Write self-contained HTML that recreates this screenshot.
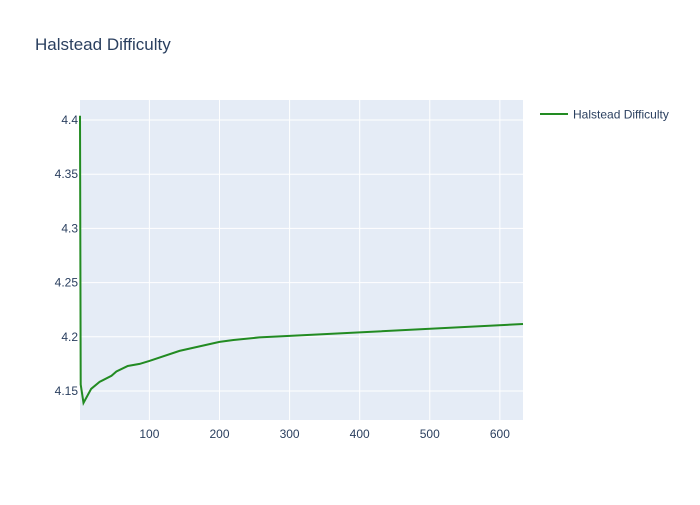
<!DOCTYPE html>
<html><head><meta charset="utf-8"><style>
body{margin:0;background:#fff;font-family:"Liberation Sans",sans-serif;}
</style></head><body>
<svg width="700" height="500" xmlns="http://www.w3.org/2000/svg">
<rect width="700" height="500" fill="#fff"/>
<text x="35" y="50" font-size="17" fill="#2a3f5f">Halstead Difficulty</text>
<rect x="80" y="100" width="443" height="320" fill="#e5ecf6"/>
<g id="grid"></g>
<g id="xt" font-size="12" fill="#2a3f5f" text-anchor="middle"></g>
<g id="yt" font-size="12" fill="#2a3f5f" text-anchor="end"></g>
<path id="line" fill="none" stroke="#228b22" stroke-width="2"/>
<g>
<line x1="540" y1="114" x2="568" y2="114" stroke="#228b22" stroke-width="2"/>
<text x="573" y="118.5" font-size="12" fill="#2a3f5f">Halstead Difficulty</text>
</g>
</svg>
<script>
const xs=[1,2,6,17,29,46,53,69,86,100,143,200,220,257,300,633];
const ys=[4.404,4.156,4.139,4.152,4.1584,4.164,4.168,4.173,4.175,4.1777,4.187,4.1953,4.197,4.1994,4.2008,4.2118];
const xTicks=[100,200,300,400,500,600];
const yTicks=[4.15,4.2,4.25,4.3,4.35,4.4];
const yLabels=["4.15","4.2","4.25","4.3","4.35","4.4"];
const X0=80,X1=523,Y0=420,Y1=100;
const xmin=Math.min(...xs),xmax=Math.max(...xs);
const ymin=4.1232,ymax=4.4185;
const sx=v=>X0+(v-xmin)/(xmax-xmin)*(X1-X0);
const sy=v=>Y0-(v-ymin)/(ymax-ymin)*(Y0-Y1);
const NS="http://www.w3.org/2000/svg";
const grid=document.getElementById('grid'),xt=document.getElementById('xt'),yt=document.getElementById('yt');
xTicks.forEach(t=>{const l=document.createElementNS(NS,'line');
l.setAttribute('x1',sx(t));l.setAttribute('x2',sx(t));l.setAttribute('y1',Y1);l.setAttribute('y2',Y0);
l.setAttribute('stroke','#fff');l.setAttribute('stroke-width','1');


grid.appendChild(l);
const tx=document.createElementNS(NS,'text');tx.setAttribute('x',sx(t));tx.setAttribute('y',Y0+18);tx.textContent=t;


xt.appendChild(tx);});
yTicks.forEach((t,i)=>{const l=document.createElementNS(NS,'line');
l.setAttribute('x1',X0);l.setAttribute('x2',X1);l.setAttribute('y1',sy(t));l.setAttribute('y2',sy(t));
l.setAttribute('stroke','#fff');l.setAttribute('stroke-width','1');


grid.appendChild(l);
const tx=document.createElementNS(NS,'text');tx.setAttribute('x',X0-2);tx.setAttribute('y',sy(t)+4);tx.textContent=yLabels[i];


yt.appendChild(tx);});
document.getElementById('line').setAttribute('d',xs.map((x,i)=>(i?'L':'M')+sx(x).toFixed(1)+','+sy(ys[i]).toFixed(1)).join(''));
</script>
</body></html>
